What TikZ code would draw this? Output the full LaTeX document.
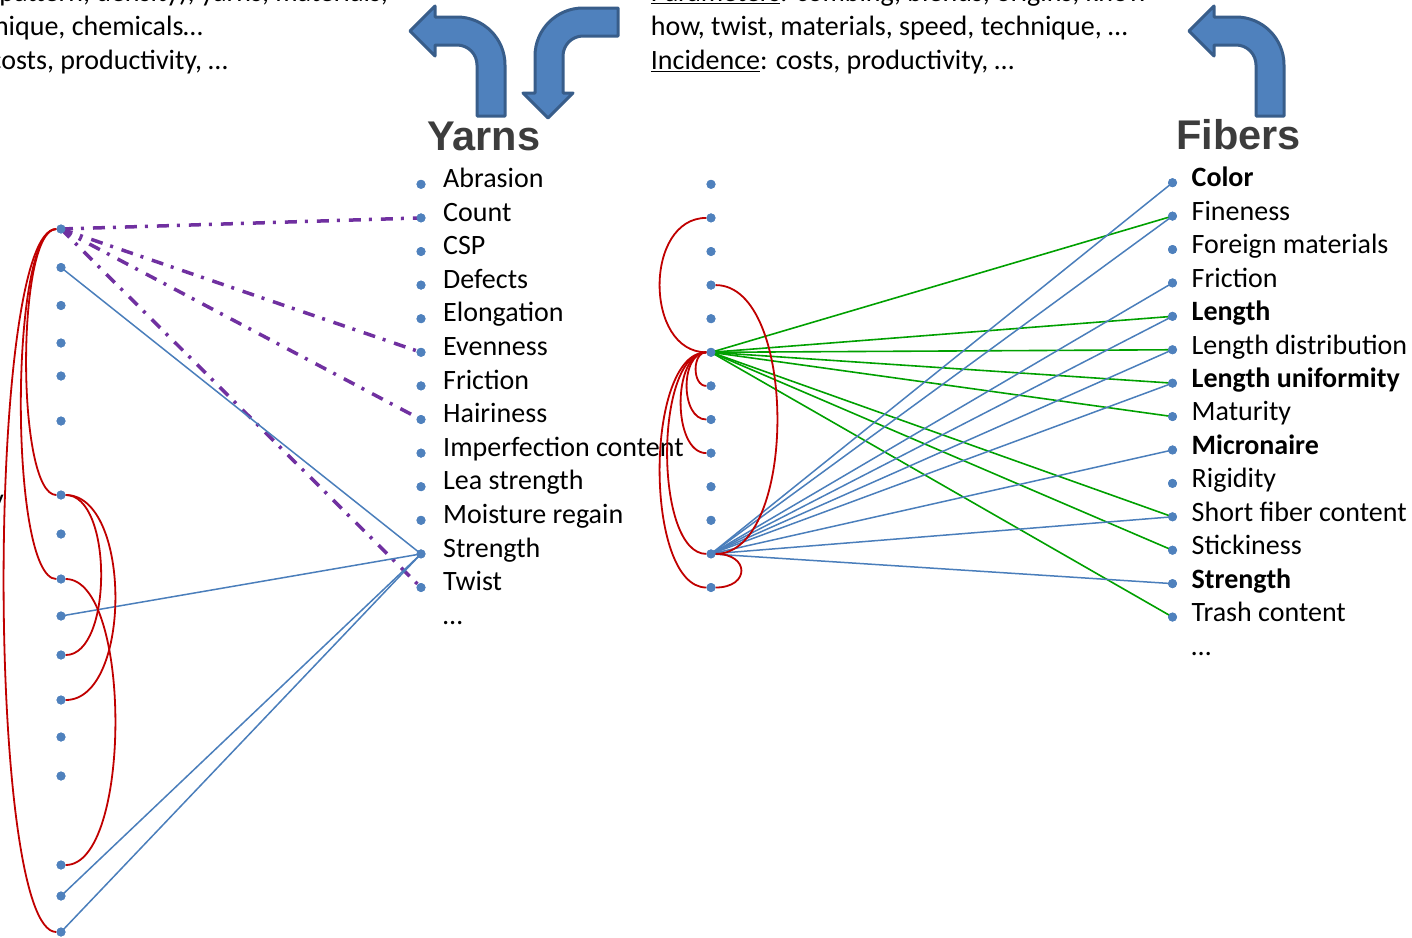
\documentclass[tikz,border=0pt]{standalone}
\usepackage{fontspec}
\setmainfont{Carlito}
\newfontfamily\titlefont{Liberation Sans}
\definecolor{dotc}{RGB}{79,129,189}
\definecolor{bluec}{RGB}{74,126,187}
\definecolor{greenc}{RGB}{0,160,0}
\definecolor{redc}{RGB}{192,0,0}
\definecolor{purpc}{RGB}{112,48,160}
\definecolor{arrfill}{RGB}{79,129,189}
\definecolor{arrdraw}{RGB}{56,93,138}
\definecolor{titlec}{RGB}{60,60,60}
\tikzset{
  dot/.style={circle,fill=dotc,draw=none,inner sep=0pt,minimum size=9pt},
  lbl/.style={anchor=base west,inner sep=0pt,font=\fontsize{28}{33.6}\selectfont},
  lblr/.style={anchor=base east,inner sep=0pt,font=\fontsize{28}{33.6}\selectfont},
  ttl/.style={anchor=base west,inner sep=0pt,text=titlec,font=\titlefont\bfseries\fontsize{41.5}{45}\selectfont},
  bluel/.style={draw=bluec,line width=1.5pt},
  greenl/.style={draw=greenc,line width=1.6pt},
  redl/.style={draw=redc,line width=1.8pt},
  purpl/.style={draw=purpc,line width=3.5pt,dash pattern=on 12pt off 8pt on 3pt off 9pt},
  blockarrow/.style={fill=arrfill,draw=arrdraw,line width=3pt,line join=round}
}
\begin{document}
\begin{tikzpicture}[x=1pt,y=-1pt]
\useasboundingbox (0,0) rectangle (1412,937);
\clip (0,0) rectangle (1412,937);

% bent block arrows
\path[blockarrow] (477,116) -- (505,116) -- (505,65) .. controls (505,38.5) and (483.5,17) .. (457,17) -- (435,17) -- (435,6) -- (410,31) -- (435,56) -- (435,45) -- (457,45) .. controls (468,45) and (477,54) .. (477,65) -- cycle;
\path[blockarrow] (618,8) -- (583,8) .. controls (556.5,8) and (535,29.5) .. (535,56) -- (535,93) -- (523,93) -- (548,118) -- (573,93) -- (563,93) -- (563,56) .. controls (563,45) and (572,36) .. (583,36) -- (618,36) -- cycle;
\path[blockarrow] (1256,116) -- (1284,116) -- (1284,65) .. controls (1284,38.5) and (1262.5,17) .. (1236,17) -- (1214,17) -- (1214,6) -- (1189,31) -- (1214,56) -- (1214,45) -- (1236,45) .. controls (1247,45) and (1256,54) .. (1256,65) -- cycle;

% top texts
\node[lblr] (tl1) at (388,1.5) {\underline{Parameters}: weave (pattern, density), yarns, materials,};
\node[lblr] (tl2) at (203,35.5) {technique, chemicals…};
\node[lblr] (tl3) at (228,69.5) {\underline{Incidence}: costs, productivity, …};
\node[lbl] (tm1) at (650.7,1.5) {\underline{Parameters}: combing, blends, origins, know};
\node[lbl] (tm2) at (650.7,35.5) {how, twist, materials, speed, technique, …};
\node[lbl] (tm3) at (650.7,69.5) {\underline{Incidence}: costs, productivity, …};
\node[lblr] (ty) at (4,508) {y};

% titles
\node[ttl] (yarns) at (427,150) {Yarns};
\node[ttl] (fibers) at (1176,149) {Fibers};

% yarn list + middle column dots
\foreach \t [count=\i] in {Abrasion,Count,CSP,Defects,Elongation,Evenness,Friction,Hairiness,Imperfection content,Lea strength,Moisture regain,Strength,Twist} {
  \node[dot] (y\i) at (421,{184.3+33.6*(\i-1)}) {};
  \node[dot] (m\i) at (711,{184.3+33.6*(\i-1)}) {};
  \node[lbl] (ly\i) at (443,{187.5+33.6*(\i-1)}) {\t};
}
\node[lbl] (lyend) at (443,624.3) {…};

% fiber list
\foreach \t [count=\i] in {{\textbf{Color}},Fineness,Foreign materials,Friction,{\textbf{Length}},Length distribution,{\textbf{Length uniformity}},Maturity,{\textbf{Micronaire}},Rigidity,Short fiber content,Stickiness,{\textbf{Strength}},Trash content} {
  \node[dot] (f\i) at (1172.5,{182.7+33.41*(\i-1)}) {};
  \node[lbl] (lf\i) at (1191.5,{186.7+33.46*(\i-1)}) {\t};
}
\node[lbl] (lfend) at (1191.5,655) {…};

% left column dots
\foreach \yy [count=\i] in {229,267.5,305.5,343,376,421,495,534,579,616,655,700,737,776,865,896,932} {
  \node[dot] (l\i) at (61,\yy) {};
}

% left column connectors
\foreach \k in {2,6,8,13} { \draw[purpl] (l1.center) -- (y\k.center); }
\foreach \k in {2,10,16,17} { \draw[bluel] (l\k.center) -- (y12.center); }
\draw[redl] (l1) .. controls (16,229) and (16,495) .. (l7);
\draw[redl] (l1) .. controls (9,229) and (9,579) .. (l9);
\draw[redl] (l1) .. controls (-14,229) and (-14,932) .. (l17);
\draw[redl] (l7) .. controls (113,495) and (113,655) .. (l11);
\draw[redl] (l7) .. controls (132,495) and (132,700) .. (l12);
\draw[redl] (l9) .. controls (132,579) and (132,865) .. (l15);

% middle column connectors
\foreach \k in {2,5,6,7,8,11,12,14} { \draw[greenl] (m6.center) -- (f\k.center); }
\foreach \k in {1,2,4,5,6,7,9,11,13} { \draw[bluel] (m12.center) -- (f\k.center); }
\draw[redl] (m2) .. controls (644,217.9) and (644,352.3) .. (m6);
\draw[redl] (m4) .. controls (798,285.1) and (798,553.9) .. (m12);
\draw[redl] (m6) .. controls (692,352.3) and (692,385.9) .. (m7);
\draw[redl] (m6) .. controls (680,352.3) and (680,419.5) .. (m8);
\draw[redl] (m6) .. controls (672,352.3) and (672,453.1) .. (m9);
\draw[redl] (m6) .. controls (654,352.3) and (654,553.9) .. (m12);
\draw[redl] (m6) .. controls (644,352.3) and (644,587.5) .. (m13);
\draw[redl] (m12) .. controls (750,553.9) and (750,587.5) .. (m13);

% redraw dots on top
\foreach \i in {1,...,13} { \fill[dotc] (y\i.center) circle (4.5); \fill[dotc] (m\i.center) circle (4.5); }
\foreach \i in {1,...,14} { \fill[dotc] (f\i.center) circle (4.5); }
\foreach \i in {1,...,17} { \fill[dotc] (l\i.center) circle (4.5); }
\end{tikzpicture}
\end{document}
